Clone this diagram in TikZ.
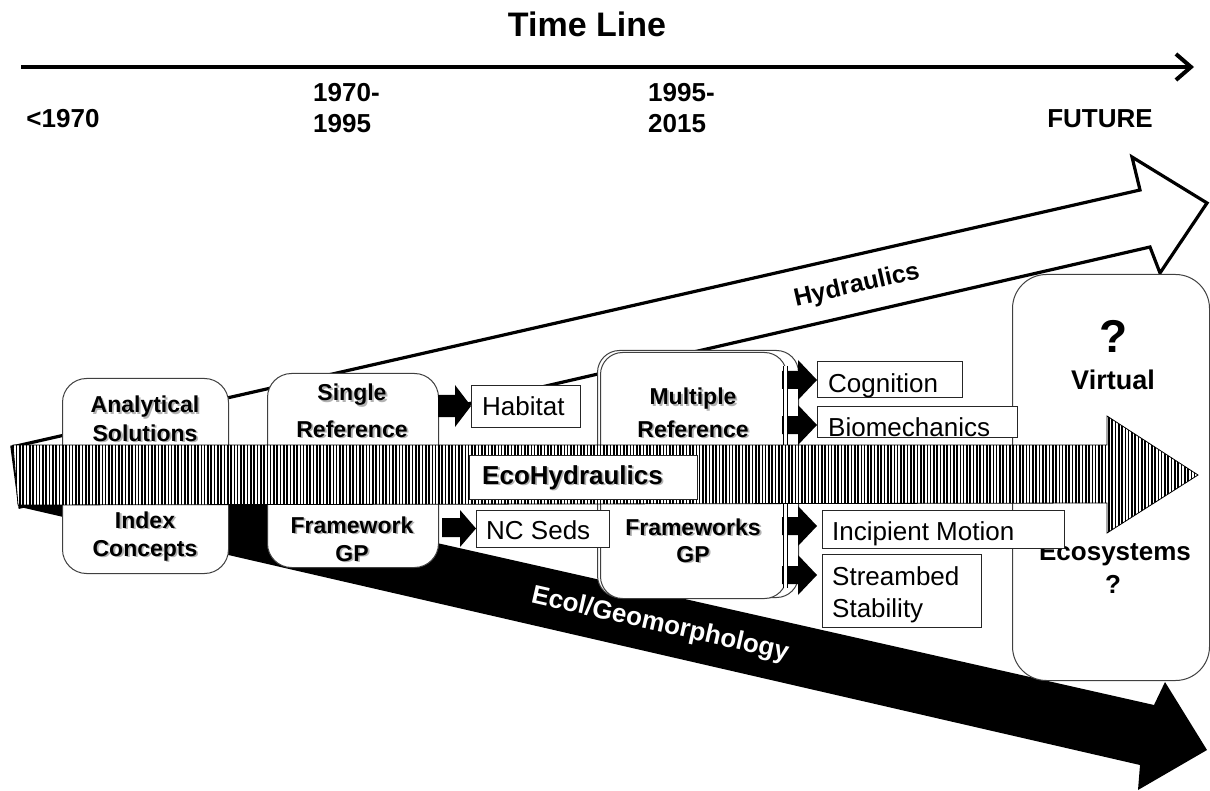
\documentclass[tikz,border=0pt]{standalone}
\usepackage{fontspec}
\setmainfont{Liberation Sans}
\usetikzlibrary{arrows.meta,patterns.meta}
\newcommand\setfs[1]{\fontsize{#1pt}{#1pt}\selectfont}
\newcommand\shtext[1]{\leavevmode\rlap{\hspace{1.8pt}\raisebox{-1.8pt}{\color{black!30}#1}}#1}
\newcommand\shlbl[4]{\node[lbl] (#1) at (#2,#3) {\shtext{#4}};}
\tikzset{
  lbl/.style={font=\bfseries\setfs{23}, inner sep=0pt, anchor=base},
  yr/.style={font=\bfseries\setfs{26}, inner sep=0pt},
  txt/.style={font=\setfs{26}, inner sep=0pt, anchor=base west},
  big/.style={font=\bfseries\setfs{27}, inner sep=0pt, anchor=base},
  tbox/.style={draw=black!85, line width=1.1pt, fill=white, inner sep=0pt, anchor=north west},
  rbox/.style={draw=black!75, line width=1pt, fill=white, rounded corners=24pt, inner sep=0pt, anchor=north west},
  blk/.style={fill=black},
}
\begin{document}
\begin{tikzpicture}[x=1pt,y=-1pt]
\useasboundingbox (0,0) rectangle (1210,791);
\fill[white] (0,0) rectangle (1210,791);

% title and time line
\node[font=\bfseries\setfs{34}, inner sep=0pt, anchor=base] (title) at (587,37) {Time Line};
\coordinate (tl0) at (21,67);
\coordinate (tl1) at (1194,67);
\draw[line width=4pt, -{Straight Barb[length=15pt,width=26pt]}] (tl0) -- (tl1);

\node[yr, anchor=base] (y0) at (63,128) {<1970};
\node[yr, anchor=base west] (y1a) at (313,102) {1970-};
\node[yr, anchor=base west] (y1b) at (313,133) {1995};
\node[yr, anchor=base west] (y2a) at (648,102) {1995-};
\node[yr, anchor=base west] (y2b) at (648,133) {2015};
\node[yr, anchor=base] (y3) at (1100,128) {FUTURE};

% Hydraulics arrow
\draw[line width=3.2pt, fill=white, line join=miter]
  (12,447) -- (1140,190) -- (1132,157) -- (1207,203) -- (1160,273) -- (1150,247) -- (20,507) -- cycle;
% Ecol/Geomorphology arrow
\fill[black]
  (12,447) -- (1154,705) -- (1165,682) -- (1207,750) -- (1138,790) -- (1140,765) -- (20,507) -- cycle;

% rounded boxes
\node[rbox, minimum width=166pt, minimum height=195pt] (ana) at (62,378) {};
\node[rbox, minimum width=171pt, minimum height=194pt] (sin) at (267,373) {};
\node[rbox, rounded corners=22pt, minimum width=201pt, minimum height=247pt] (mulb) at (597,350) {};
\node[rbox, rounded corners=22pt, minimum width=186pt, minimum height=246pt] (mul) at (600,352) {};
\node[rbox, rounded corners=34pt, minimum width=197pt, minimum height=406pt] (vir) at (1012,274) {};

% texts of the big box
\node[font=\bfseries\setfs{46}, inner sep=0pt, anchor=base] (q1) at (1114,353) {?};
\node[big] (virt) at (1113,390) {Virtual};
\node[big, font=\bfseries\setfs{26}] (ecos) at (1115,560) {Ecosystems};
\node[big, font=\bfseries\setfs{26}] (q2) at (1113,593) {?};

% small block arrows
\fill[blk] (438,395) -- (455,395) -- (455,385) -- (471,406) -- (455,427) -- (455,417) -- (438,417) -- cycle;
\fill[blk] (442,518) -- (460,518) -- (460,510) -- (476,528.5) -- (460,547) -- (460,537) -- (442,537) -- cycle;
\foreach \c in {380,425,526,575}{
  \fill[blk] (782,\c-9) -- (798,\c-9) -- (798,\c-20) -- (817,\c) -- (798,\c+20) -- (798,\c+9) -- (782,\c+9) -- cycle;
}
\draw[line width=0.8pt, double=white, double distance=2.6pt] (785.5,366) -- (785.5,588);

% text boxes
\node[tbox, minimum width=109pt, minimum height=42pt] (hab) at (471,385) {};
\node[tbox, minimum width=133pt, minimum height=37pt] (ncs) at (476,510) {};
\node[tbox, minimum width=145pt, minimum height=36pt] (cog) at (817,361) {};
\node[tbox, minimum width=200pt, minimum height=31pt] (bio) at (817,406) {};
\node[tbox, minimum width=242pt, minimum height=38pt] (inc) at (822,510) {};
\node[tbox, minimum width=159pt, minimum height=73pt] (str) at (822,554) {};

\node[txt] (habt) at (482,415) {Habitat};
\node[txt] (ncst) at (486,539) {NC Seds};
\node[txt] (cogt) at (828,392) {Cognition};
\node[txt] (biot) at (828,436) {Biomechanics};
\node[txt] (inct) at (832,540) {Incipient Motion};
\node[txt] (strt1) at (832,585) {Streambed};
\node[txt] (strt2) at (832,617) {Stability};

% EcoHydraulics band
\draw[line width=0.8pt, preaction={fill=white}, pattern={Lines[angle=90,distance=3.3pt,line width=1.6pt]}]
  (13,445) -- (1107,445) -- (1107,416) -- (1198,475) -- (1107,533) -- (1107,503) -- (18,505) -- cycle;
\node[tbox, line width=1pt, minimum width=228pt, minimum height=44pt] (ehbox) at (469,455) {};
\node[lbl, anchor=base west, font=\bfseries\setfs{26}] (eh) at (482,484) {\shtext{EcoHydraulics}};

% box labels
\shlbl{ana1}{145}{413}{Analytical}
\shlbl{ana2}{145}{441}{Solutions}
\shlbl{ind1}{145}{528}{Index}
\shlbl{ind2}{145}{556}{Concepts}
\shlbl{sin1}{352}{401}{Single}
\shlbl{sin2}{352}{437}{Reference}
\shlbl{fr1}{352}{533}{Framework}
\shlbl{fr2}{352}{561}{GP}
\shlbl{mul1}{693}{405}{Multiple}
\shlbl{mul2}{693}{437}{Reference}
\shlbl{frs1}{693}{535}{Frameworks}
\shlbl{frs2}{693}{562}{GP}

% arrow labels
\node[font=\bfseries\setfs{25}, rotate=12.8, inner sep=0pt] (hyd) at (857,286) {Hydraulics};
\node[font=\bfseries\setfs{26}, text=white, rotate=-12.8, inner sep=0pt] (eco) at (660,625) {Ecol/Geomorphology};
\end{tikzpicture}
\end{document}
